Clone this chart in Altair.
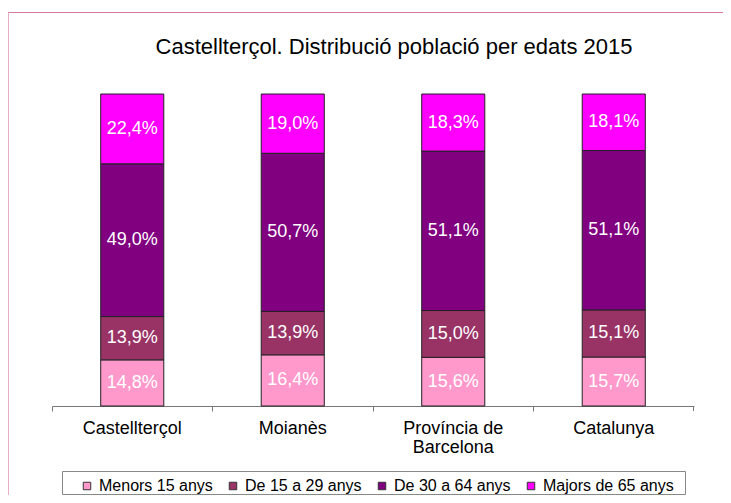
import altair as alt
import pandas as pd

categories = ["Castellterçol", "Moianès", "Província de Barcelona", "Catalunya"]
groups = ["Menors 15 anys", "De 15 a 29 anys", "De 30 a 64 anys", "Majors de 65 anys"]
menors15 = [14.8, 16.4, 15.6, 15.7]
de15a29 = [13.9, 13.9, 15.0, 15.1]
de30a64 = [49.0, 50.7, 51.1, 51.1]
majors65 = [22.4, 19.0, 18.3, 18.1]
colors = ["#FF99CC", "#993366", "#800080", "#FF00FF"]
title_text = "Castellterçol. Distribució població per edats 2015"

series = [menors15, de15a29, de30a64, majors65]
rows = []
for gi, (g, vals) in enumerate(zip(groups, series)):
    for c, v in zip(categories, vals):
        rows.append({"cat": c, "grp": g, "ord": gi, "value": v,
                     "label": f"{v:.1f}".replace(".", ",") + "%"})
df = pd.DataFrame(rows)

FONT = "Liberation Sans"
W, H = 642, 312

base = alt.Chart(df).transform_stack(
    stack="value", groupby=["cat"], as_=["v0", "v1"],
    sort=[alt.SortField("ord", order="ascending")], offset="normalize"
).transform_calculate(mid="(datum.v0 + datum.v1) / 2")

xenc = alt.X("cat:N", sort=categories, title=None,
             scale=alt.Scale(paddingInner=0, paddingOuter=0),
             axis=alt.Axis(bandPosition=0, labelAngle=0, labelFont=FONT, labelFontSize=18,
                           labelColor="#000", labelPadding=8, labelLineHeight=19,
                           labelBaseline="top",
                           labelExpr="datum.label == 'Província de Barcelona' ? ['Província de', 'Barcelona'] : datum.label",
                           domainColor="#777", tickColor="#777", tickSize=5, grid=False))

bars = base.mark_bar(width=alt.RelativeBandSize(0.393), stroke="#222", strokeWidth=1).encode(
    x=xenc,
    y=alt.Y("v0:Q", axis=None, scale=alt.Scale(domain=[0, 1])),
    y2="v1:Q",
    color=alt.Color("grp:N", sort=groups,
                    scale=alt.Scale(domain=groups, range=colors),
                    legend=alt.Legend(title=None, orient="none", direction="horizontal",
                                      columns=4, legendX=27, legendY=384,
                                      labelFont=FONT, labelFontSize=16, labelColor="#000",
                                      symbolType="square", symbolSize=56,
                                      symbolStrokeColor="#333", symbolStrokeWidth=1,
                                      labelOffset=4, columnPadding=12, padding=0)),
)

texts = base.mark_text(color="white", font=FONT, fontSize=18, baseline="middle").encode(
    x=alt.X("cat:N", sort=categories),
    y=alt.Y("mid:Q"),
    text="label:N",
)

dummy = pd.DataFrame({"t": [title_text]})

title_mark = alt.Chart(dummy).mark_text(font=FONT, fontSize=22, color="#000",
                                        baseline="alphabetic", align="center").encode(
    x=alt.value(342), y=alt.value(-40), text="t:N")

last_tick = alt.Chart(dummy).mark_rule(color="#777").encode(
    x=alt.value(W - 0.5), y=alt.value(H), y2=alt.value(H + 5))

top_line = alt.Chart(dummy).mark_rule(color="#D77A96", strokeWidth=1).encode(
    x=alt.value(-44), x2=alt.value(W + 29), y=alt.value(-81.5))
left_line = alt.Chart(dummy).mark_rule(color="#E8AFC3", strokeWidth=1).encode(
    x=alt.value(-43.5), y=alt.value(-81.5), y2=alt.value(H + 89))

legend_box = alt.Chart(dummy).mark_rect(fill=None, stroke="#888", strokeWidth=1).encode(
    x=alt.value(10.5), x2=alt.value(633.5), y=alt.value(377.5), y2=alt.value(400.5))

chart = alt.layer(top_line, left_line, legend_box, bars, texts, title_mark, last_tick).properties(
    width=W, height=H,
    autosize=alt.AutoSizeParams(type="none"),
    padding={"left": 44, "top": 86, "right": 29, "bottom": 89},
    background="white",
).configure_view(stroke=None)

chart.save("out.html", embed_options={"renderer": "svg", "actions": False})
